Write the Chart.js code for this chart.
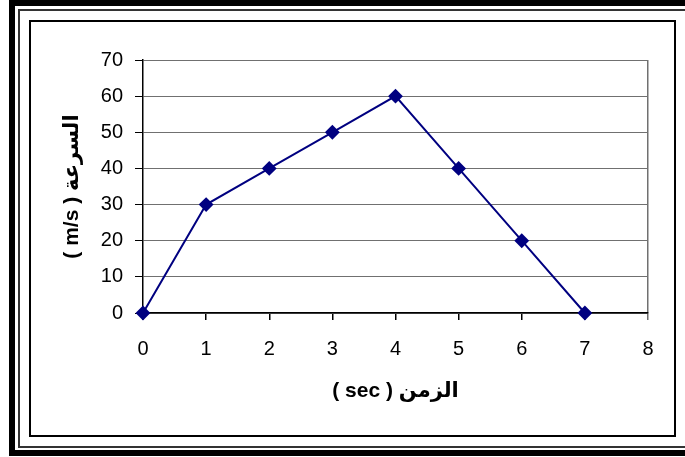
<!DOCTYPE html>
<html lang="en">
<head>
<meta charset="UTF-8">
<title>Speed vs time</title>
<script src="https://cdn.jsdelivr.net/npm/chart.js"></script>
<style>
    html, body {
        margin: 0;
        padding: 0;
        background: #fff;
        width: 685px;
        height: 457px;
        overflow: hidden;
        position: relative;
    }
    .frame {
        position: absolute;
        box-sizing: border-box;
    }
    /* outer thick border, runs off the right edge like the reference */
    .outer { left: 9px; top: 0; width: 720px; height: 456px; border: 6px solid #000; }
    .middle { left: 18px; top: 9px; width: 720px; height: 439px; border: 2px solid #333; }
    .inner { left: 29px; top: 20px; width: 647px; height: 417px; border: 2px solid #000; }
    #chart {
        position: absolute;
        left: 0;
        top: 0;
    }
</style>
</head>
<body>
<div class="frame outer"></div>
<div class="frame middle"></div>
<div class="frame inner"></div>
<canvas id="chart" width="685" height="457"></canvas>
<script>
// time (sec) and speed (m/s)
const times = [0, 1, 2, 3, 4, 5, 6, 7];
const speeds = [0, 30, 40, 50, 60, 40, 20, 0];

const xTitle = '( sec ) الزمن';
const yTitle = '( m/s ) السرعة';

const navy = '#000080';
const gridGray = '#707070';
const fontFamily = 'Arial, "Liberation Sans", "DejaVu Sans", sans-serif';

const points = times.map((t, i) => ({ x: t, y: speeds[i] }));

const ctx = document.getElementById('chart').getContext('2d');
new Chart(ctx, {
    type: 'line',
    data: {
        datasets: [{
            data: points,
            borderColor: navy,
            borderWidth: 2,
            backgroundColor: navy,
            pointStyle: 'rectRot',
            pointRadius: 6,
            pointHoverRadius: 6,
            pointBackgroundColor: navy,
            pointBorderColor: navy,
            tension: 0,
            clip: false
        }]
    },
    options: {
        responsive: false,
        animation: false,
        events: [],
        layout: {
            padding: { left: 40, right: 37, top: 60, bottom: 46 }
        },
        plugins: {
            legend: { display: false },
            tooltip: { enabled: false }
        },
        scales: {
            x: {
                type: 'linear',
                min: 0,
                max: 8,
                afterFit: (scale) => { scale.height = 98; },
                ticks: {
                    stepSize: 1,
                    color: '#000',
                    padding: 17,
                    font: { family: fontFamily, size: 20 }
                },
                grid: {
                    // only the right edge of the plot gets a line
                    color: (c) => (c.tick && c.tick.value === 8 ? gridGray : 'rgba(0,0,0,0)'),
                    tickColor: (c) => (c.tick && c.tick.value === 8 ? gridGray : '#000'),
                    tickLength: 7,
                    lineWidth: 1.5
                },
                border: { color: '#000', width: 1.5 },
                title: {
                    display: true,
                    text: xTitle,
                    color: '#000',
                    padding: { top: 0, bottom: 7 },
                    font: { family: fontFamily, size: 21, weight: 'bold' }
                }
            },
            y: {
                min: 0,
                max: 70,
                afterFit: (scale) => { scale.width = 103; },
                ticks: {
                    stepSize: 10,
                    color: '#000',
                    padding: 12,
                    font: { family: fontFamily, size: 20 }
                },
                grid: {
                    color: gridGray,
                    tickColor: '#000',
                    tickLength: 8,
                    lineWidth: 1
                },
                border: { color: '#000', width: 1.5 },
                title: {
                    display: true,
                    text: yTitle,
                    color: '#000',
                    padding: { top: 20, bottom: 0 },
                    font: { family: fontFamily, size: 21, weight: 'bold' }
                }
            }
        }
    }
});
</script>
</body>
</html>
